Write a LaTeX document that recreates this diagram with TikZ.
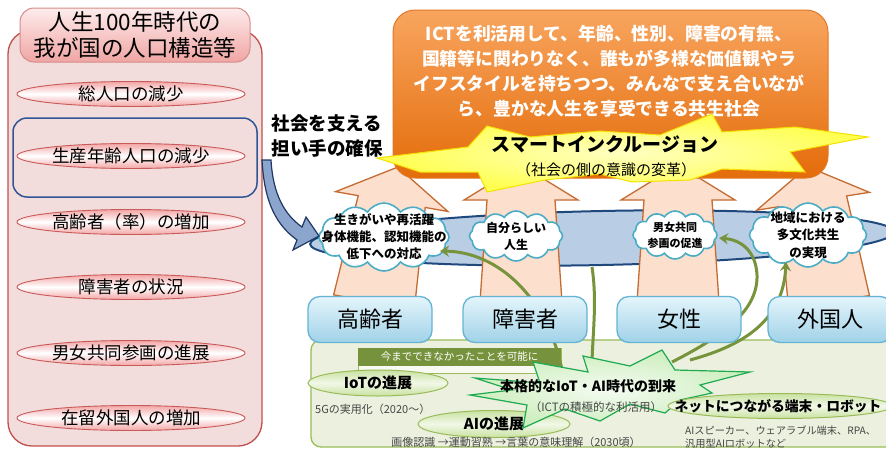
\documentclass[tikz,border=0pt]{standalone}
\usepackage{fontspec}
\setmainfont{Noto Sans CJK JP}
\usetikzlibrary{shapes.geometric,shapes.symbols,arrows.meta}
\definecolor{panelfill}{RGB}{242,221,220}
\definecolor{panelline}{RGB}{192,80,77}
\definecolor{titletop}{RGB}{253,236,236}
\definecolor{titlebot}{RGB}{240,165,163}
\definecolor{titleline}{RGB}{214,140,138}
\definecolor{ellpink}{RGB}{244,165,165}
\definecolor{ellline}{RGB}{200,90,90}
\definecolor{bluerect}{RGB}{47,85,151}
\definecolor{bandfill}{RGB}{185,205,229}
\definecolor{bandline}{RGB}{31,73,125}
\definecolor{peach}{RGB}{252,223,205}
\definecolor{peachline}{RGB}{196,108,50}
\definecolor{orangetop}{RGB}{248,165,95}
\definecolor{orangebot}{RGB}{228,108,10}
\definecolor{orangeline}{RGB}{225,120,40}
\definecolor{starfill}{RGB}{255,255,80}
\definecolor{starline}{RGB}{245,225,0}
\definecolor{cloudline}{RGB}{75,172,198}
\definecolor{boxtop}{RGB}{228,245,251}
\definecolor{boxbot}{RGB}{160,210,232}
\definecolor{boxline}{RGB}{100,180,212}
\definecolor{gpanel}{RGB}{235,241,222}
\definecolor{gline}{RGB}{155,187,89}
\definecolor{gtab}{RGB}{118,146,60}
\definecolor{gstarline}{RGB}{30,170,80}
\definecolor{gstarfill}{RGB}{205,238,190}
\definecolor{gell}{RGB}{200,226,160}
\definecolor{olive}{RGB}{119,147,60}
\definecolor{navy}{RGB}{31,56,100}
\definecolor{bluearrow}{RGB}{140,165,205}
\definecolor{smalltext}{RGB}{70,70,70}
\tikzset{
  lell/.style={ellipse, draw=ellline, line width=0.9pt, top color=ellpink, bottom color=ellpink, middle color=white, minimum width=228pt, minimum height=25pt, inner sep=0pt},
  lelltext/.style={font=\fontsize{17.5}{17.5}\selectfont, inner sep=0pt},
  peacharrow/.style={fill=peach, draw=peachline, line width=1.3pt, line join=miter},
  bigup/.pic={\draw[peacharrow] (-41,0) -- (-34,-102) -- (-57,-102) -- (0,-137) -- (57,-102) -- (34,-102) -- (41,0) -- cycle;},
  cloudbox/.style={cloud, cloud puffs=12, cloud puff arc=115, cloud ignores aspect, draw=cloudline, line width=1.6pt, fill=white, inner sep=0pt},
  cloudtext/.style 2 args={font=\bfseries\fontsize{#1}{#2}\selectfont, align=center, inner sep=0pt},
  gell/.style={ellipse, draw=gline, line width=1pt, top color=gell, bottom color=gell, middle color=white!75!gell, inner sep=0pt},
  gelltext/.style={font=\bfseries\fontsize{#1}{#1}\selectfont, inner sep=0pt},
  small/.style={text=smalltext, font=\fontsize{11}{13}\selectfont, inner sep=0pt},
  garrow/.style={draw=olive, line width=3pt, -{Stealth[length=9pt,width=11pt]}},
  gline3/.style={draw=olive, line width=3pt},
  personbox/.style={draw=boxline, line width=1.3pt, top color=boxtop, bottom color=boxbot, rounded corners=12pt, minimum width=124pt, minimum height=46pt, inner sep=0pt, font=\fontsize{22}{22}\selectfont}
}
\begin{document}
\begin{tikzpicture}[x=1pt,y=-1pt]
\useasboundingbox (0,0) rectangle (886,450);
\fill[white] (0,0) rectangle (886,450);

% ---------- left panel ----------
\node[draw=panelline, line width=1.3pt, fill=panelfill, rounded corners=24pt, minimum width=254pt, minimum height=416pt, inner sep=0pt] (panel) at (135,238) {};
\node[draw=titleline, line width=1pt, top color=titletop, bottom color=titlebot, rounded corners=14pt, minimum width=230pt, minimum height=54pt, align=center, font=\fontsize{22.5}{25.5}\selectfont, inner sep=0pt] (title) at (135,35) {人生100年時代の\\我が国の人口構造等};
\node[draw=bluerect, line width=1.5pt, rounded corners=14pt, minimum width=244pt, minimum height=79pt, inner sep=0pt] (bluebox) at (135,157.5) {};
\node[lell] (e1) at (131,94) {};  \node[lelltext] (e1t) at (e1) {総人口の減少};
\node[lell] (e2) at (131,156) {}; \node[lelltext] (e2t) at (e2) {生産年齢人口の減少};
\node[lell] (e3) at (131,222) {}; \node[lelltext] (e3t) at (e3) {高齢者（率）の増加};
\node[lell] (e4) at (131,287) {}; \node[lelltext] (e4t) at (e4) {障害者の状況};
\node[lell] (e5) at (131,353) {}; \node[lelltext] (e5t) at (e5) {男女共同参画の進展};
\node[lell] (e6) at (131,418) {}; \node[lelltext] (e6t) at (e6) {在留外国人の増加};

% ---------- blue band ----------
\node[ellipse, draw=bandline, line width=2pt, fill=bandfill, minimum width=584pt, minimum height=54pt, rotate=1.2, inner sep=0pt] (band) at (602,238) {};

% ---------- peach arrows ----------
\pic[rotate=-10] (arr1) at (374,302) {bigup};
\pic (arr2) at (521,302) {bigup};
\pic (arr3) at (678,302) {bigup};
\pic[rotate=9] (arr4) at (829,302) {bigup};

% ---------- orange box ----------
\node[draw=orangeline, line width=1pt, top color=orangetop, bottom color=orangebot, rounded corners=22pt, minimum width=435pt, minimum height=168pt, inner sep=0pt] (orange) at (610.5,94) {};
\node[text=white, font=\bfseries\fontsize{17.8}{25}\selectfont, align=center, inner sep=0pt] (otext) at (609,71) {ICTを利活用して、年齢、性別、障害の有無、\\国籍等に関わりなく、誰もが多様な価値観やラ\\イフスタイルを持ちつつ、みんなで支え合いなが\\ら、豊かな人生を享受できる共生社会};

% ---------- yellow star ----------
\draw[draw=starline, line width=1pt, inner color=starfill!35!white, outer color=starfill]
  (377,158) -- (468,147) -- (487,126) -- (530,137) -- (600,131) -- (660,135) -- (712,114) -- (722,132) -- (795,127) -- (868,137) -- (790,152) -- (805,172) -- (722,169) -- (690,180) -- (632,182) -- (600,174) -- (545,180) -- (487,192) -- (478,172) -- (420,172) -- cycle;
\node[font=\bfseries\fontsize{19}{19}\selectfont, inner sep=0pt] (smart) at (605,144) {スマートインクルージョン};
\node[font=\fontsize{15}{15}\selectfont, inner sep=0pt] (smart2) at (606,170) {（社会の側の意識の変革）};

% ---------- clouds ----------
\node[cloudbox, minimum width=130pt, minimum height=68pt] (c1) at (384,237) {};
\node[cloudtext={12.5}{17}] (c1t) at (c1) {生きがいや再活躍\\身体機能、認知機能の\\低下への対応};
\node[cloudbox, minimum width=93pt, minimum height=50pt] (c2) at (516,236) {};
\node[cloudtext={12}{17}] (c2t) at (c2) {自分らしい\\人生};
\node[cloudbox, minimum width=84pt, minimum height=48pt] (c3) at (675,235) {};
\node[cloudtext={11}{16}] (c3t) at (c3) {男女共同\\参画の促進};
\node[cloudbox, minimum width=117pt, minimum height=64pt] (c4) at (808,235) {};
\node[cloudtext={12.5}{17.5}] (c4t) at (c4) {地域における\\多文化共生\\の実現};

% ---------- blue curved arrow ----------
\draw[fill=bluearrow, draw=navy, line width=1.2pt, line join=miter] (262,160) .. controls (264,195) and (272,222) .. (297,240) -- (293,250) -- (319,236) -- (306,217) -- (302,227) .. controls (285,215) and (273,195) .. (271,160) -- cycle;
\node[font=\bfseries\fontsize{18.5}{25}\selectfont, align=center, inner sep=0pt] (support) at (327,136) {社会を支える\\担い手の確保};

% ---------- green panel ----------
\draw[draw=gline, line width=1.3pt, fill=gpanel, rounded corners=10pt] (311,340) rectangle (905,447);
\draw[draw=gline, fill=white!60!gpanel, line width=0.8pt] (358,348) rectangle (561,373);
\fill[gtab] (358,348) rectangle (561,366);
\node[text=white, font=\fontsize{10.5}{10.5}\selectfont, inner sep=0pt] (tab) at (459.5,357) {今までできなかったことを可能に};
\node[gell, minimum width=140pt, minimum height=26pt] (iot) at (378,383) {};
\node[gelltext=15] (iott) at (iot) {IoTの進展};
\node[small, anchor=west] (g5) at (315,409) {5Gの実用化（2020～）};
\node[gell, minimum width=152pt, minimum height=27pt] (ai) at (494,424) {};
\node[gelltext=15] (ait) at (ai) {AIの進展};
\node[small] (aitext) at (516,442) {画像認識 →運動習熟 →言葉の意味理解（2030頃）};

% ---------- green connectors ----------
\coordinate (gA0) at (562,370); \coordinate (gA1) at (440,251);
\coordinate (gB0) at (592,267); \coordinate (gB1) at (592,362);
\coordinate (gC0) at (672,362); \coordinate (gC1) at (719,238);
\coordinate (gD0) at (690,360); \coordinate (gD1) at (786,262);
\draw[garrow] (gA0) .. controls (548,300) and (500,252) .. (gA1);
\draw[gline3] (gB0) .. controls (597,300) and (593,330) .. (gB1);
\draw[garrow] (gC0) .. controls (725,335) and (758,310) .. (757,275) .. controls (756,252) and (742,240) .. (gC1);
\draw[garrow] (gD0) .. controls (745,345) and (783,320) .. (gD1);

% ---------- green star ----------
\draw[draw=gstarline, line width=1.2pt, inner color=white!80!gstarfill, outer color=gstarfill]
  (475,378) -- (540,383) -- (533,362) -- (588,372) -- (583,356) -- (630,366) -- (662,350) -- (675,370) -- (750,372) -- (700,385) -- (712,393) -- (680,400) -- (665,413) -- (630,404) -- (600,421) -- (565,409) -- (523,428) -- (527,405) -- (470,395) -- (512,390) -- cycle;
\node[font=\bfseries\fontsize{14}{14}\selectfont, inner sep=0pt] (gstar1) at (588,386) {本格的なIoT・AI時代の到来};
\node[font=\fontsize{11.5}{11.5}\selectfont, text=smalltext, inner sep=0pt] (gstar2) at (596,407) {（ICTの積極的な利活用）};

\node[gell, minimum width=224pt, minimum height=25pt] (net) at (780,406) {};
\node[gelltext=13.8] (nett) at (778,406) {ネットにつながる端末・ロボット};
\node[small, anchor=north west, align=left, font=\fontsize{10.2}{12.5}\selectfont] (nettext) at (685,426) {AIスピーカー、ウェアラブル端末、RPA、\\汎用型AIロボットなど};

% ---------- person boxes ----------
\node[personbox] (b1) at (370,319.5) {高齢者};
\node[personbox] (b2) at (525,319.5) {障害者};
\node[personbox] (b3) at (679,319.5) {女性};
\node[personbox] (b4) at (830,319.5) {外国人};
\end{tikzpicture}
\end{document}
